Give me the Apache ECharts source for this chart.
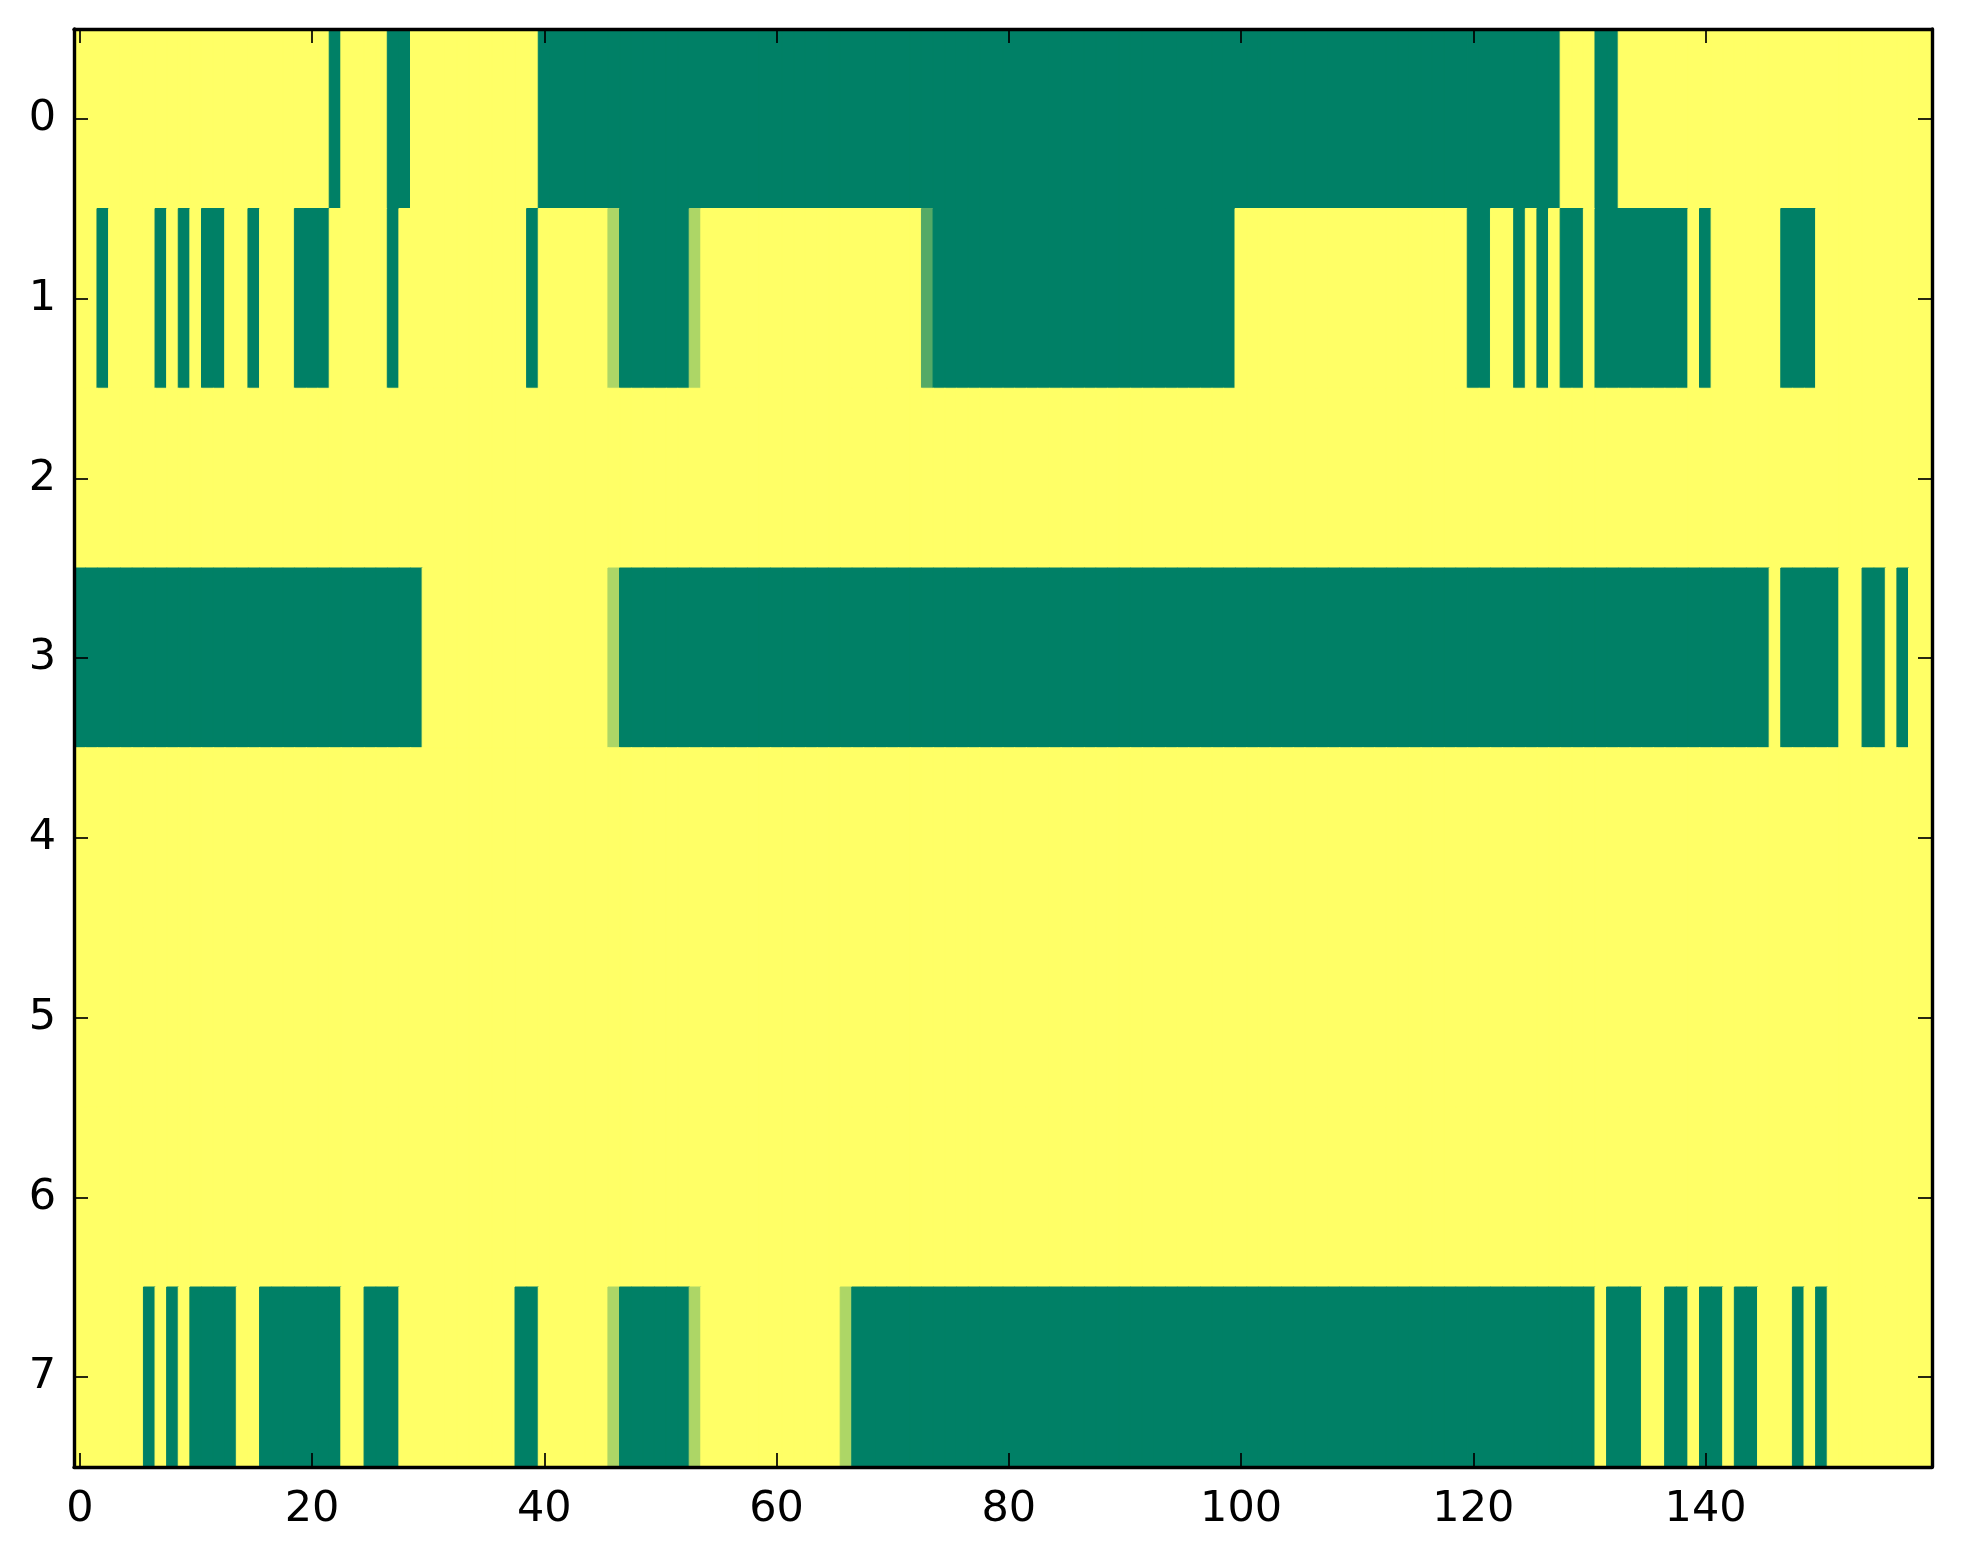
<!DOCTYPE html>
<html>
<head>
<meta charset="utf-8">
<script src="https://cdn.jsdelivr.net/npm/echarts@6/dist/echarts.min.js"></script>
<style>
html,body{margin:0;padding:0;background:#fff;}
#chart{width:1963px;height:1564px;}
</style>
</head>
<body>
<div id="chart"></div>
<script>
// Categories / tick labels
const xCategories = Array.from({length: 160}, (_, i) => String(i));
const yCategories = ['0','1','2','3','4','5','6','7'];

// Row values (0 = dark green, 1 = yellow; summer colormap)
const row0 = [
1,1,1,1,1,1,1,1,1,1, 1,1,1,1,1,1,1,1,1,1, 1,1,0,1,1,1,1,0,0,1, 1,1,1,1,1,1,1,1,1,1,
0,0,0,0,0,0,0,0,0,0, 0,0,0,0,0,0,0,0,0,0, 0,0,0,0,0,0,0,0,0,0, 0,0,0,0,0,0,0,0,0,0,
0,0,0,0,0,0,0,0,0,0, 0,0,0,0,0,0,0,0,0,0, 0,0,0,0,0,0,0,0,0,0, 0,0,0,0,0,0,0,0,0,0,
0,0,0,0,0,0,0,0,1,1, 1,0,0,1,1,1,1,1,1,1, 1,1,1,1,1,1,1,1,1,1, 1,1,1,1,1,1,1,1,1,1];
const row1 = [
1,1,0,1,1,1,1,0,1,0, 1,0,0,1,1,0,1,1,1,0, 0,0,1,1,1,1,1,0,1,1, 1,1,1,1,1,1,1,1,1,0,
1,1,1,1,1,1,0.68,0,0,0, 0,0,0,0.68,1,1,1,1,1,1, 1,1,1,1,1,1,1,1,1,1, 1,1,1,0.33,0,0,0,0,0,0,
0,0,0,0,0,0,0,0,0,0, 0,0,0,0,0,0,0,0,0,0, 1,1,1,1,1,1,1,1,1,1, 1,1,1,1,1,1,1,1,1,1,
0,0,1,1,0,1,0,1,0,0, 1,0,0,0,0,0,0,0,0,1, 0,1,1,1,1,1,1,0,0,0, 1,1,1,1,1,1,1,1,1,1];
const row2 = [
1,1,1,1,1,1,1,1,1,1, 1,1,1,1,1,1,1,1,1,1, 1,1,1,1,1,1,1,1,1,1, 1,1,1,1,1,1,1,1,1,1,
1,1,1,1,1,1,1,1,1,1, 1,1,1,1,1,1,1,1,1,1, 1,1,1,1,1,1,1,1,1,1, 1,1,1,1,1,1,1,1,1,1,
1,1,1,1,1,1,1,1,1,1, 1,1,1,1,1,1,1,1,1,1, 1,1,1,1,1,1,1,1,1,1, 1,1,1,1,1,1,1,1,1,1,
1,1,1,1,1,1,1,1,1,1, 1,1,1,1,1,1,1,1,1,1, 1,1,1,1,1,1,1,1,1,1, 1,1,1,1,1,1,1,1,1,1];
const row3 = [
0,0,0,0,0,0,0,0,0,0, 0,0,0,0,0,0,0,0,0,0, 0,0,0,0,0,0,0,0,0,0, 1,1,1,1,1,1,1,1,1,1,
1,1,1,1,1,1,0.68,0,0,0, 0,0,0,0,0,0,0,0,0,0, 0,0,0,0,0,0,0,0,0,0, 0,0,0,0,0,0,0,0,0,0,
0,0,0,0,0,0,0,0,0,0, 0,0,0,0,0,0,0,0,0,0, 0,0,0,0,0,0,0,0,0,0, 0,0,0,0,0,0,0,0,0,0,
0,0,0,0,0,0,0,0,0,0, 0,0,0,0,0,0,0,0,0,0, 0,0,0,0,0,0,1,0,0,0, 0,0,1,1,0,0,1,0,1,1];
const row4 = row2.slice();
const row5 = row2.slice();
const row6 = row2.slice();
const row7 = [
1,1,1,1,1,1,0,1,0,1, 0,0,0,0,1,1,0,0,0,0, 0,0,0,1,1,0,0,0,1,1, 1,1,1,1,1,1,1,1,0,0,
1,1,1,1,1,1,0.68,0,0,0, 0,0,0,0.68,1,1,1,1,1,1, 1,1,1,1,1,1,0.68,0,0,0, 0,0,0,0,0,0,0,0,0,0,
0,0,0,0,0,0,0,0,0,0, 0,0,0,0,0,0,0,0,0,0, 0,0,0,0,0,0,0,0,0,0, 0,0,0,0,0,0,0,0,0,0,
0,0,0,0,0,0,0,0,0,0, 0,1,0,0,0,1,1,0,0,1, 0,0,1,0,0,1,1,1,0,1, 0,1,1,1,1,1,1,1,1,1];

const rows = [row0, row1, row2, row3, row4, row5, row6, row7];

// summer colormap endpoints
const CMAP = ['#008066', '#ffff66'];
const data = [];
rows.forEach((r, y) => r.forEach((v, x) => {
  const c = echarts.color.lerp(v, CMAP);
  data.push({value: [x, y, v], itemStyle: {color: c, borderColor: c, borderWidth: 1}});
}));

const FONT = 'DejaVu Sans';
const FS = 43;
const tickEvery20 = (i) => i % 20 === 0;
const lineStyle = {color: '#000', width: 3.4};
const tickStyle = {color: '#000', width: 1.7};

const chart = echarts.init(document.getElementById('chart'), null, {renderer: 'canvas'});
chart.setOption({
  backgroundColor: '#ffffff',
  animation: false,
  grid: {left: 74, top: 29, width: 1858, height: 1438, containLabel: false},
  xAxis: [{
    type: 'category', data: xCategories, position: 'bottom', z: 10,
    axisLine: {show: true, onZero: false, lineStyle: lineStyle},
    axisTick: {show: true, inside: true, length: 14, alignWithLabel: true, interval: tickEvery20, lineStyle: tickStyle},
    axisLabel: {show: true, interval: tickEvery20, margin: 21, color: '#000', fontSize: FS, fontFamily: FONT},
    splitLine: {show: false}
  }, {
    type: 'category', data: xCategories, position: 'top', z: 10,
    axisLine: {show: true, onZero: false, lineStyle: lineStyle},
    axisTick: {show: true, inside: true, length: 14, alignWithLabel: true, interval: tickEvery20, lineStyle: tickStyle},
    axisLabel: {show: false},
    splitLine: {show: false}
  }],
  yAxis: [{
    type: 'category', data: yCategories, inverse: true, position: 'left', z: 10,
    axisLine: {show: true, onZero: false, lineStyle: lineStyle},
    axisTick: {show: true, inside: true, length: 14, alignWithLabel: true, lineStyle: tickStyle},
    axisLabel: {show: true, margin: 18, color: '#000', fontSize: FS, fontFamily: FONT},
    splitLine: {show: false}
  }, {
    type: 'category', data: yCategories, inverse: true, position: 'right', z: 10,
    axisLine: {show: true, onZero: false, lineStyle: lineStyle},
    axisTick: {show: true, inside: true, length: 14, alignWithLabel: true, lineStyle: tickStyle},
    axisLabel: {show: false},
    splitLine: {show: false}
  }],
  series: [{
    type: 'heatmap', xAxisIndex: 0, yAxisIndex: 0, data: data,
    progressive: 0
  }]
});
</script>
</body>
</html>
